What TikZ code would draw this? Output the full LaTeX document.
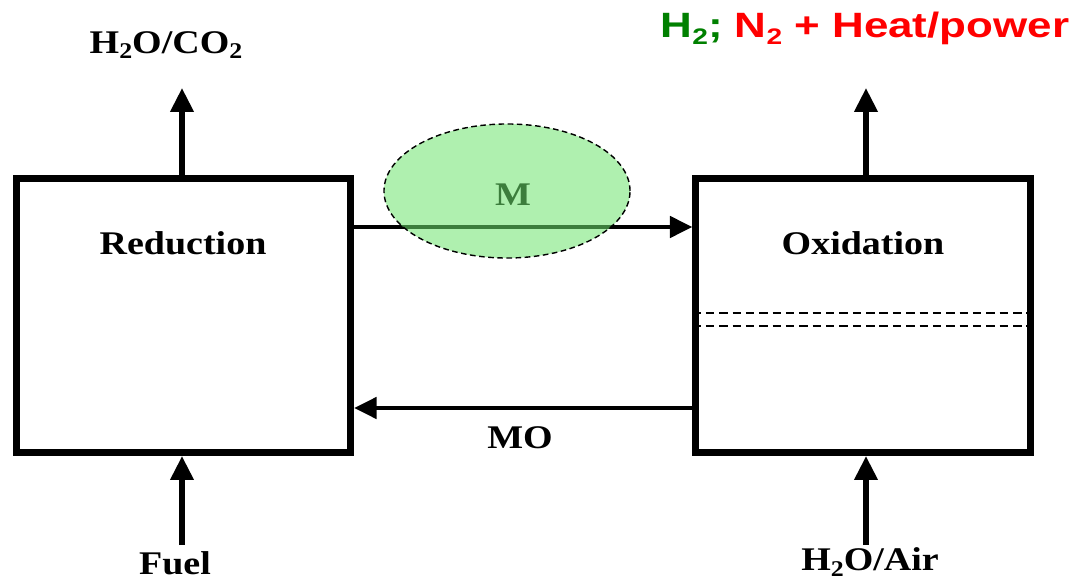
\documentclass[tikz,border=0pt]{standalone}
\usepackage{fontspec}
\setmainfont{Liberation Serif}[FakeStretch=1.15]
\newfontfamily\labelsans{Liberation Sans}[FakeStretch=1.25]
\usetikzlibrary{arrows.meta,shapes.geometric}

\definecolor{prodgreen}{RGB}{0,128,0}
\definecolor{prodred}{RGB}{255,0,0}
\definecolor{blobgreen}{RGB}{110,228,110}

% chemical subscript, dropped well below the line
\newcommand{\chsub}[1]{\raisebox{-0.38ex}{\fontsize{16}{18}\selectfont #1}}

\tikzset{
    reactor/.style={draw, line width=5pt, minimum width=8.35cm, minimum height=6.85cm},
    flow/.style={line width=3.8pt, -{Triangle[length=17pt,width=16pt]}},
    loop/.style={line width=3pt, -{Triangle[length=16pt,width=15pt]}},
    chem/.style={font=\fontsize{23.5}{27}\selectfont\bfseries, inner sep=0pt},
    bedline/.style={line width=1.2pt, dash pattern=on 6pt off 3.5pt},
}

\begin{document}
\begin{tikzpicture}[x=0.025cm, y=-0.025cm]
    % fixes the page to 1078 x 583
    \useasboundingbox (0,0) rectangle (1078,583);

    % the two reactors
    \node[reactor] (red) at (183.5,315.5) {};
    \node[reactor] (oxi) at (863,315.5) {};
    \node[chem] (redlbl) at (183,243) {Reduction};
    \node[chem] (oxilbl) at (863,243) {Oxidation};

    % bed level in the oxidation reactor
    \draw[bedline] (oxi.west |- 0,313) -- (oxi.east |- 0,313);
    \draw[bedline] (oxi.west |- 0,326) -- (oxi.east |- 0,326);

    % metal goes over, oxide comes back
    \node[chem] (mlbl) at (513,195) {M};
    \draw[loop] (red.east |- 0,227) -- (oxi.west |- 0,227);
    \draw[loop] (oxi.west |- 0,408) -- (red.east |- 0,408);
    \node[chem] (molbl) at (520,438) {MO};

    % shaded blob over the M stream
    \node[ellipse, draw, line width=1pt, dash pattern=on 4pt off 2.5pt,
          fill=blobgreen, fill opacity=0.55,
          minimum width=6.15cm, minimum height=3.35cm] (blob) at (507,191) {};

    % feeds and products
    \coordinate (fuelin) at (182,545);
    \coordinate (airin) at (866,545);
    \coordinate (fluegas) at (182,88);
    \coordinate (h2out) at (866,88);
    \draw[flow] (fuelin) -- (fuelin |- red.south);
    \draw[flow] (airin) -- (airin |- oxi.south);
    \draw[flow] (fluegas |- red.north) -- (fluegas);
    \draw[flow] (h2out |- oxi.north) -- (h2out);

    \node[chem] (fuel) at (175,563) {Fuel};
    \node[chem] (air) at (870,562) {H\chsub{2}O/Air};
    \node[chem] (co2) at (166,45) {H\chsub{2}O/CO\chsub{2}};
    \node[inner sep=0pt, font=\labelsans\fontsize{25}{28}\selectfont\bfseries] (prod) at (865,28)
        {\textcolor{prodgreen}{H\chsub{2};} \textcolor{prodred}{N\chsub{2} + Heat/power}};
\end{tikzpicture}
\end{document}
